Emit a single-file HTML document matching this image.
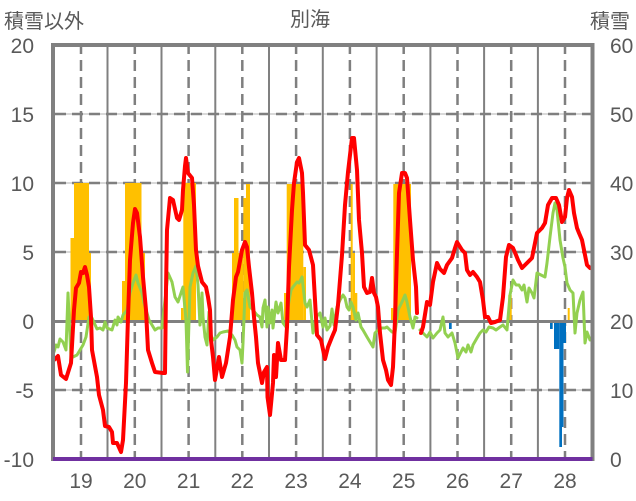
<!DOCTYPE html>
<html><head><meta charset="utf-8"><style>
html,body{margin:0;padding:0;background:#fff;}
svg{display:block;}
text{font-family:"Liberation Sans","Noto Sans CJK JP",sans-serif;fill:#595959;}
</style></head><body>
<svg width="636" height="501" viewBox="0 0 636 501" xmlns="http://www.w3.org/2000/svg">
<rect width="636" height="501" fill="#fff"/>
<!-- horizontal dashed grid -->
<g stroke-width="2">
<line x1="54" y1="114" x2="592" y2="114" stroke="#d9d9d9"/>
<line x1="54" y1="183" x2="592" y2="183" stroke="#d9d9d9"/>
<line x1="54" y1="252" x2="592" y2="252" stroke="#d9d9d9"/>
<line x1="54" y1="390" x2="592" y2="390" stroke="#d9d9d9"/>
</g>
<g stroke="#7f7f7f" stroke-width="2.5" stroke-dasharray="11,6">
<line x1="55" y1="114" x2="592" y2="114"/>
<line x1="55" y1="183" x2="592" y2="183"/>
<line x1="55" y1="252" x2="592" y2="252"/>
<line x1="55" y1="390" x2="592" y2="390"/>
</g>
<!-- vertical solid grid -->
<g stroke="#808080" stroke-width="2">
<line x1="107.5" y1="45" x2="107.5" y2="459"/>
<line x1="161.5" y1="45" x2="161.5" y2="459"/>
<line x1="215.3" y1="45" x2="215.3" y2="459"/>
<line x1="269" y1="45" x2="269" y2="459"/>
<line x1="322.8" y1="45" x2="322.8" y2="459"/>
<line x1="376.6" y1="45" x2="376.6" y2="459"/>
<line x1="430.4" y1="45" x2="430.4" y2="459"/>
<line x1="484.1" y1="45" x2="484.1" y2="459"/>
<line x1="537.9" y1="45" x2="537.9" y2="459"/>
</g>
<!-- vertical dashed grid -->
<g stroke="#7f7f7f" stroke-width="2.5" stroke-dasharray="11,6" stroke-dashoffset="4">
<line x1="81" y1="47" x2="81" y2="459"/>
<line x1="134.8" y1="47" x2="134.8" y2="459"/>
<line x1="188.6" y1="47" x2="188.6" y2="459"/>
<line x1="242.3" y1="47" x2="242.3" y2="459"/>
<line x1="296.1" y1="47" x2="296.1" y2="459"/>
<line x1="349.9" y1="47" x2="349.9" y2="459"/>
<line x1="403.7" y1="47" x2="403.7" y2="459"/>
<line x1="457.5" y1="47" x2="457.5" y2="459"/>
<line x1="511.2" y1="47" x2="511.2" y2="459"/>
<line x1="565" y1="47" x2="565" y2="459"/>
</g>
<!-- orange bars -->
<g fill="#FFC000">
<rect x="70.5" y="238" width="3.5" height="83"/>
<rect x="74" y="183" width="15" height="138"/>
<rect x="89" y="253" width="2" height="68"/>
<rect x="122" y="281" width="3" height="40"/>
<rect x="125" y="183" width="16.5" height="138"/>
<rect x="141.5" y="253" width="3.5" height="68"/>
<rect x="181" y="308" width="2.3" height="13"/>
<rect x="183.3" y="183" width="12.7" height="138"/>
<rect x="232" y="253" width="2" height="68"/>
<rect x="234" y="198" width="4.5" height="123"/>
<rect x="238.5" y="253" width="4.8" height="68"/>
<rect x="243.3" y="198" width="2.7" height="123"/>
<rect x="246" y="184" width="4" height="137"/>
<rect x="284" y="293" width="2.7" height="28"/>
<rect x="286.7" y="184" width="16.6" height="137"/>
<rect x="303.3" y="267" width="2.7" height="54"/>
<rect x="350.7" y="184" width="2" height="137"/>
<rect x="352.7" y="253" width="2.3" height="68"/>
<rect x="355" y="293" width="2.3" height="28"/>
<rect x="391" y="308" width="2.3" height="13"/>
<rect x="393.3" y="184" width="17.7" height="137"/>
<rect x="508.3" y="295" width="3.4" height="26"/>
<rect x="567.7" y="308" width="2" height="13"/>
</g>
<!-- blue bars -->
<g fill="#0070C0">
<rect x="449" y="321" width="2.7" height="8"/>
<rect x="550" y="321" width="2.7" height="8"/>
<rect x="554" y="321" width="5.3" height="28"/>
<rect x="559.3" y="321" width="2.7" height="126"/>
<rect x="562" y="321" width="1.5" height="106"/>
<rect x="563.5" y="321" width="2.5" height="22"/>
</g>
<!-- zero line -->
<line x1="54" y1="321.5" x2="592" y2="321.5" stroke="#808080" stroke-width="3"/>
<!-- green line -->
<g fill="none" stroke="#92D050" stroke-width="3" stroke-linejoin="round" stroke-linecap="round">
<polyline points="54,352 56,345 58,347 60,339 63,342 66,350 68,293 71,358 77,355 80,350 83,345 86,337 89,317 92,318 97,329 100,328 103,330 105,322 107,328 112,330 115,320 117,325 118,317 121,322 123,315 127,310 130,293 133,283 136,275 138,283 142,293 144,303 147,313 149,320 152,325 155,330 158,328 162,328 165,300 168,273 172,282 175,297 178,302 181,293 183,287 186,320 187.5,372 190,287 193,273 196,266 198,285 200,325 202,293 203,317 205,337 207,345 209,312 211,335 213,340 217,337 220,333 223,332 228,331 232,335 235,340 237,347 240,350 242,363 243,343 245,293 247,290 250,307 253,310 257,315 260,317 262,327 263,308 265,300 267,327 268,307 270,323 272,310 273,328 276,302 278,313 281,303 283,323 286,327 288,307 291,290 293,287 297,282 299,283 302,277 305,303 307,307 310,300 313,333 317,316 320,313 323,327 325,318 327,330 330,326 332,309 334,325 337,307 340,300 343,295 345,298 347,307 349,310 351,302 353,307 356,320 358,313 361,327 363,330 367,337 370,342 373,347 375,333 378,330 382,328 385,328 387,327 392,332 395,333 398,310 402,302 405,295 407,302 410,317 413,328 415,317 417,318"/>
<polyline points="420,330 423,333 427,337 430,332 433,338 437,333 440,330 443,317 445,333 448,337 452,333 455,343 458,358 461,352 463,348 466,352 468,345 471,352 473,345 477,338 480,333 483,330 486,332 489,327 493,328 496,330 500,327 503,325 507,330 510,295 513,280 516,285 519,285 522,290 524,285 527,302 529,288 532,293 534,298 537,273 541,275 545,277 547,263 550,237 553,213 555,203 557,210 560,240 563,258 565,267 567,283 570,290 573,293 575,333 577,313 580,300 583,292 585,343 587,332 590,340"/>
</g>
<!-- red line -->
<g fill="none" stroke="#FF0000" stroke-width="4" stroke-linejoin="round" stroke-linecap="round">
<polyline points="54,360 58,356 61,375 66,379 71,363 74,310 76,288 79,283 81,272 83,273 85,267 87,275 89,287 91,317 92,350 97,377 99,395 103,410 105,426 109,427 112,432 113,443 117,443 121,452 123,440 126,383 128,317 130,260 133,223 135,209 137,213 140,237 143,277 146,310 148,350 152,363 155,372 163,373 165,373 166,290 167,230 170,198 173,200 177,218 179,220 182,210 183,190 185,166 186,158 188,173 192,178 194,205 196,250 198,266 202,282 206,287 208,297 210,310 211,340 213,357 215,380 219,357 222,377 226,363 230,337 233,300 236,277 238,272 242,250 245,242 247,247 249,267 252,293 254,317 256,337 258,363 262,383 264,372 267,367 267.5,397 270,415 273,383 274,355 276,377 278,343 281,360 285,360 287,327 289,267 292,210 294,183 297,162 299,158 302,173 303,193 305,245 309,250 313,265 315,300 317,335 321,340 325,359 328,347 332,337 335,330 338,305 342,255 345,205 348,172 352,138 354,138 357,170 359,220 362,253 364,287 367,293 370,292 372,278 374,293 376,297 378,307 380,333 383,360 386,370 388,380 391,385 393,367 395,320 397,253 399,193 402,173 405,173 407,178 410,220 413,260 416,287 417,313"/>
<polyline points="421,333 423,327 427,302 430,305 433,282 437,263 440,269 444,273 447,265 452,258 455,248 457,242 462,250 465,253 467,270 470,275 473,272 477,277 480,282 483,300 485,317 488,317 491,323 495,322 500,320 503,297 506,257 509,245 513,248 516,255 518,260 522,268 525,265 528,262 532,258 535,243 537,233 542,228 545,223 548,205 552,198 556,198 559,205 562,222 565,217 567,198 569,190 572,197 574,213 577,228 579,233 582,240 584,250 587,265 590,268"/>
</g>
<!-- frame -->
<path d="M53,461 L53,45 L592.5,45 L592.5,461" fill="none" stroke="#808080" stroke-width="4"/>
<line x1="53" y1="459" x2="592.5" y2="459" stroke="#7030A0" stroke-width="4"/>
<!-- left axis labels -->
<g font-size="21" text-anchor="end">
<text x="34" y="53">20</text>
<text x="34" y="122">15</text>
<text x="34" y="191">10</text>
<text x="34" y="260">5</text>
<text x="34" y="329">0</text>
<text x="34" y="398">-5</text>
<text x="34" y="467">-10</text>
</g>
<!-- right axis labels -->
<g font-size="21" text-anchor="start">
<text x="610" y="53">60</text>
<text x="610" y="122">50</text>
<text x="610" y="191">40</text>
<text x="610" y="260">30</text>
<text x="610" y="329">20</text>
<text x="610" y="398">10</text>
<text x="610" y="467">0</text>
</g>
<!-- x labels -->
<g font-size="21" text-anchor="middle">
<text x="81" y="488">19</text>
<text x="134.8" y="488">20</text>
<text x="188.6" y="488">21</text>
<text x="242.3" y="488">22</text>
<text x="296.1" y="488">23</text>
<text x="349.9" y="488">24</text>
<text x="403.7" y="488">25</text>
<text x="457.5" y="488">26</text>
<text x="511.2" y="488">27</text>
<text x="565" y="488">28</text>
</g>
<text x="4" y="28" font-size="20">積雪以外</text>
<text x="310" y="26" font-size="20" text-anchor="middle">別海</text>
<text x="590" y="28" font-size="20">積雪</text>
</svg>
</body></html>
